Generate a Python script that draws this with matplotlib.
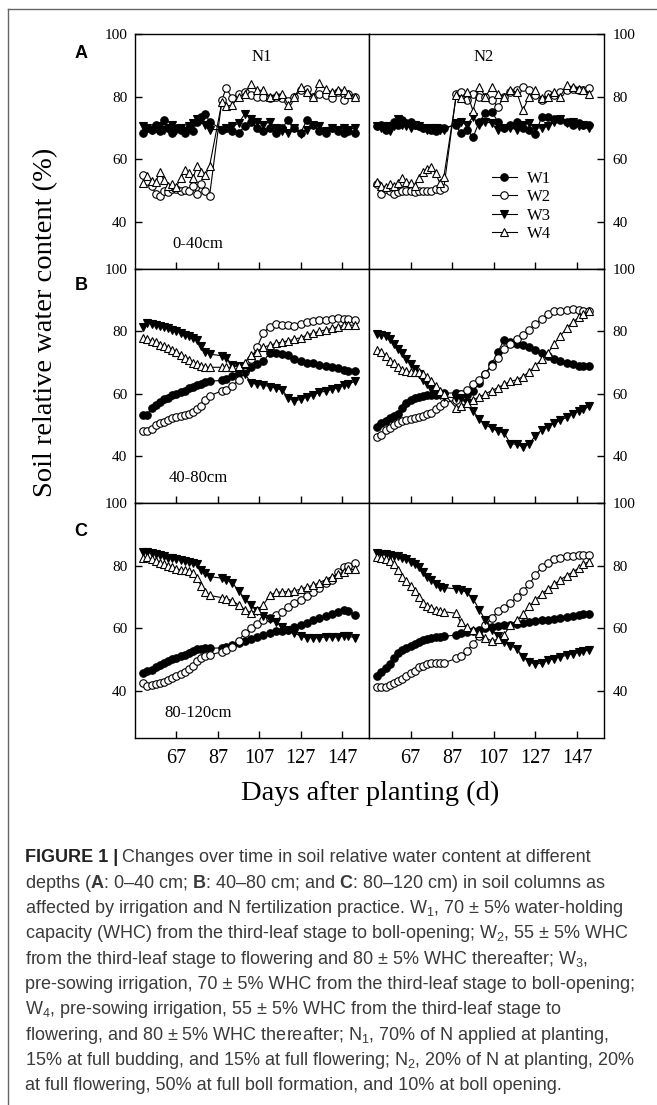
import matplotlib
matplotlib.use("Agg")
import matplotlib.pyplot as plt
from matplotlib.lines import Line2D

# sampling days (same for every series)
days = [51, 53, 55, 57, 59, 61, 63, 65, 67, 69, 71, 73, 75, 77, 79, 81, 83,
        89, 91, 94, 97, 100, 103, 106, 109, 112, 115, 118, 121, 124, 127, 130,
        133, 136, 139, 142, 145, 148, 150, 153]

# A: 0-40 cm
a_n1_w1 = [68.5, 70, 69.5, 71, 69, 72.5, 70, 68.5, 70, 69.5, 68.5, 70, 69, 72, 73.5, 74.5, 72,
           69.5, 70, 69, 68.5, 70.5, 72, 70, 69, 70, 68.5, 70, 72.5, 70, 68.5, 72.5, 71, 69, 68.5, 70, 69, 68.5, 69, 68.5]
a_n1_w2 = [55, 53, 51.5, 49, 48.3, 50, 49.5, 50.5, 50.5, 50, 50.2, 50, 51.5, 49, 52, 50, 48.3,
           79, 82.7, 79.5, 81, 81.5, 80.5, 80, 80, 79.5, 80, 79.5, 78.5, 80, 82, 82.3, 80, 81, 80.5, 79.5, 81.5, 79, 81, 80]
a_n1_w3 = [70.5, 70, 69.5, 70, 70.5, 69.5, 70, 71, 69.5, 70, 69, 70.5, 71.5, 73, 73, 71, 69.5,
           69.5, 70, 70.5, 71.5, 74.5, 73, 72, 71, 72, 70, 69, 68.5, 70, 68, 69.5, 71, 70.5, 69, 70, 69.5, 70, 69.5, 70]
a_n1_w4 = [52.5, 54.7, 53, 52.8, 56, 53.3, 51.5, 52, 51.2, 53.9, 56.5, 55.5, 54, 58, 56, 55, 57.8,
           78.4, 77, 77.3, 80, 81, 84, 82, 82, 80, 80.5, 81, 77.3, 80, 83.2, 81.5, 80, 84.3, 82.5, 81.5, 82, 82, 81, 80]
a_n2_w1 = [70.5, 71, 69.3, 70.5, 72, 71, 72.5, 71.5, 72, 71, 70.5, 70, 70, 69.5, 69, 70, 70,
           71, 68.3, 69.5, 67, 72, 74.7, 75.2, 72, 70, 71, 72, 70, 69.5, 68, 73.5, 73.5, 73, 72.5, 72, 71, 71.5, 71, 71]
a_n2_w2 = [52, 49, 50.5, 50, 49, 49.5, 50, 50, 50, 49.5, 50, 49.8, 50, 50, 50.5, 50.3, 51,
           81, 81.5, 79, 81, 80, 80, 79, 76.8, 80, 81.5, 82, 83, 82, 80.5, 79, 81, 80.5, 81.5, 82, 82.5, 82, 82, 82.7]
a_n2_w3 = [70.5, 70, 70.5, 69, 70.5, 73, 71, 70.5, 70, 71, 70.5, 70, 69.5, 70, 70, 69.5, 69.5,
           71.5, 72, 71, 73.5, 71, 72, 71.5, 69.3, 70, 70, 69.5, 71, 71.5, 70, 70, 70.5, 72, 73, 71.5, 72, 70.5, 71, 70]
a_n2_w4 = [52.8, 51.5, 51.2, 52, 51.5, 52.5, 53.9, 52.8, 52.5, 51.5, 54, 56, 57, 57.6, 55.5, 52.5, 54.4,
           80.5, 79.5, 81.5, 75.5, 83, 80, 83.2, 81, 80, 82, 81.5, 75.7, 80, 82, 79.5, 80, 81.5, 80, 83.7, 83, 82.5, 82, 81]

# B: 40-80 cm
b_n1_w1 = [53.3, 53.3, 55.5, 56.5, 57.5, 58.3, 58.8, 59.5, 60, 60.5, 61, 61.7, 62.2, 62.7, 63.3, 63.8, 64,
           64.3, 64.8, 65.8, 66.8, 67.5, 68.5, 69.5, 70.5, 73, 73, 72.8, 72.3, 71, 70.5, 70, 69.8, 69.3, 68.9, 68.5, 68.2, 67.6, 67.2, 67.2]
b_n1_w2 = [48.2, 48.2, 48.8, 50, 50.5, 51, 51.7, 52.2, 52.5, 52.9, 53.2, 53.5, 54.3, 55, 56.2, 58, 59.3,
           61, 61.3, 62.5, 64.5, 67, 71, 75, 79.5, 81.5, 82.3, 82.1, 82, 81.6, 82.3, 83, 83.3, 83.7, 83.6, 84, 84.3, 84, 84, 83.5]
b_n1_w3 = [81.5, 82.7, 82.5, 82, 81.8, 81.5, 81, 80.5, 80, 79.5, 79, 78.5, 78, 77.3, 75.2, 73.5, 72.7,
           72.2, 71.5, 69.3, 69, 66.5, 63.5, 63, 62.8, 62.3, 61.8, 61.2, 58.8, 57.6, 58.3, 59, 59.5, 60.5, 60.8, 61.5, 62, 62.7, 63, 64]
b_n1_w4 = [77.9, 77.5, 77, 76.5, 75.8, 75.2, 74.8, 74, 73.5, 72.5, 71.5, 70.8, 70, 69.5, 69, 68.5, 68.5,
           68.5, 68.5, 68.5, 69, 70, 72.5, 73.5, 75, 75.5, 76.2, 76.6, 77, 77.5, 78, 78.8, 79.5, 80, 80.5, 81, 81.5, 82, 82, 82]
b_n2_w1 = [49.4, 50.5, 51.2, 52.3, 52.8, 53.5, 55.5, 57, 58, 58.5, 59, 59.2, 59.5, 59.5, 59.5, 60, 60.2,
           60.3, 59.8, 59.5, 61, 63.5, 66.5, 69.5, 73.5, 77.3, 76.5, 76, 75.5, 75, 74, 73, 72, 71.2, 70.5, 70, 69.5, 69, 68.8, 68.8]
b_n2_w2 = [46.2, 46.8, 48.3, 49, 50, 50.8, 51.3, 51.6, 52, 52.2, 52.5, 53, 53.5, 54, 55, 56, 57,
           58.1, 60, 61.3, 63, 64.5, 66.5, 69, 71.5, 74.5, 76, 77.5, 79, 80.5, 82.5, 84, 85.5, 86.4, 86.5, 86.8, 87.3, 87, 86.5, 86.4]
b_n2_w3 = [79.1, 79, 78.5, 77.5, 76, 74.5, 73, 71, 69.5, 68, 66.5, 64.5, 63, 61.5, 60.3, 59.5, 59,
           58.7, 58.5, 57, 54.5, 52, 50, 49, 48, 47.5, 44, 43.8, 43, 44, 46.5, 48.5, 49.5, 50.5, 51.5, 52.5, 53.5, 54.5, 55, 56]
b_n2_w4 = [74.1, 73.5, 72, 70.5, 69.8, 68.5, 67.5, 67.2, 67, 67, 67, 66.5, 65.5, 64, 62.5, 61, 60,
           55.5, 56, 57, 58, 59, 60, 61, 62, 63, 64, 64.5, 65.5, 67, 69, 71, 73, 76, 78.5, 81, 83, 84.5, 85.5, 86.4]

# C: 80-120 cm
c_n1_w1 = [45.9, 46.3, 46.8, 47.5, 48.3, 49, 49.6, 50.1, 50.6, 51.1, 51.6, 52.2, 52.8, 53.3, 53.5, 53.6, 53.6,
           53.8, 54.1, 54.6, 55.2, 55.8, 56.5, 57.2, 57.9, 58.6, 59, 59.3, 59.6, 60.5, 61.2, 61.8, 62.5, 63.2, 63.8, 64.5, 65.2, 65.9, 65.5, 64.3]
c_n1_w2 = [42.4, 41.5, 41.8, 42.2, 42.5, 43, 43.5, 44.2, 44.8, 45.5, 46.2, 47, 48, 49.5, 50.5, 51.2, 51.5,
           52.5, 53, 54, 56, 58.5, 60, 61.5, 62.5, 63.3, 64.2, 65.3, 66.8, 68, 69, 70.2, 71.5, 72.8, 74.5, 75.5, 78, 79.7, 80, 80.7]
c_n1_w3 = [84.5, 84.3, 84, 83.8, 83.5, 83, 82.6, 82.3, 82, 81.8, 81.5, 81.2, 81, 80.5, 78.5, 77.5, 76.5,
           76, 75.5, 74.5, 72, 69.5, 67.5, 65.5, 64, 63, 62, 60.5, 59.5, 58.5, 57.5, 57, 57, 57, 57.2, 57.2, 57.3, 57.5, 57.5, 57]
c_n1_w4 = [82.3, 82.8, 82, 81.5, 81, 80.5, 80, 79.5, 79, 78.7, 78.5, 78.3, 77.8, 76, 73.5, 71.5, 70.5,
           69.8, 69.5, 68.8, 67.5, 66, 65, 65.8, 67.5, 70.5, 71.5, 71.6, 71.7, 72, 72.5, 73.2, 73.7, 74.6, 75.5, 76.5, 77.3, 78, 78.8, 78.8]
c_n2_w1 = [44.8, 46.2, 47.2, 48.5, 50.5, 52, 53.2, 53.8, 54.5, 55, 55.6, 56.2, 56.7, 57, 57.2, 57.3, 57.4,
           57.9, 58.4, 58.8, 59.2, 59.5, 60, 60.3, 60.7, 61, 61.2, 61.5, 61.8, 62, 62.3, 62.5, 62.8, 63.1, 63.4, 63.7, 64, 64.4, 64.6, 64.6]
c_n2_w2 = [41.2, 41.2, 41.4, 41.8, 42.5, 43.3, 43.8, 44.8, 45.6, 46.5, 47.5, 48, 48.5, 48.8, 48.8, 48.8, 49,
           50.4, 51.2, 52.8, 55, 57.5, 61, 63.3, 65.5, 66.5, 68, 70, 72, 74, 77, 79.5, 81, 82, 82.5, 83, 83.2, 83.5, 83.5, 83.4]
c_n2_w3 = [84, 83.8, 83.7, 83.5, 83.2, 83, 82.6, 82, 81.3, 80.5, 79.5, 78, 76.5, 75.5, 74, 73.3, 73,
           72.6, 72.3, 71.5, 69.5, 66, 62.5, 59.5, 57.5, 55.5, 54.5, 53.5, 51, 49.3, 48.5, 49, 49.8, 50.3, 50.9, 51.4, 51.9, 52.3, 52.7, 53.1]
c_n2_w4 = [82.7, 82.5, 82, 81.5, 80.5, 78.5, 76.5, 75, 73.5, 72, 70, 68, 67, 66.5, 66, 65.5, 65.3,
           64.8, 62, 60.5, 59.5, 58.5, 57, 56, 56.5, 58, 61, 62.5, 64.5, 67, 69, 71, 72.5, 74, 75.5, 76.8, 78, 79.3, 80.5, 81.3]

treatments = ["W1", "W2", "W3", "W4"]
depth_labels = ["0-40cm", "40-80cm", "80-120cm"]
panel_letters = ["A", "B", "C"]
n_labels = ["N1", "N2"]
xticks = [67, 87, 107, 127, 147]
yticks = [40, 60, 80, 100]

panels = [
    [[a_n1_w1, a_n1_w2, a_n1_w3, a_n1_w4], [a_n2_w1, a_n2_w2, a_n2_w3, a_n2_w4]],
    [[b_n1_w1, b_n1_w2, b_n1_w3, b_n1_w4], [b_n2_w1, b_n2_w2, b_n2_w3, b_n2_w4]],
    [[c_n1_w1, c_n1_w2, c_n1_w3, c_n1_w4], [c_n2_w1, c_n2_w2, c_n2_w3, c_n2_w4]],
]

styles = [dict(marker="o", mfc="black"), dict(marker="o", mfc="white"),
          dict(marker="v", mfc="black"), dict(marker="^", mfc="white")]

serif = "Liberation Serif"
W, H = 657, 1105
fig = plt.figure(figsize=(W / 100, H / 100), dpi=100)

def fx(px):
    return px / W

def fy(py):
    return 1 - py / H

cols = [(135, 369), (369, 604)]
rows = [(34, 269), (269, 503), (503, 738)]

for r, (top, bot) in enumerate(rows):
    for c, (left, right) in enumerate(cols):
        ax = fig.add_axes([fx(left), fy(bot), (right - left) / W, (bot - top) / H])
        for vals, st in zip(panels[r][c], styles):
            ax.plot(days, vals, color="black", lw=0.8, ms=5.4, mec="black", mew=0.8,
                    **st)
        ax.set_xlim(47, 160)
        ax.set_ylim(25, 100)
        ax.set_xticks(xticks)
        ax.set_yticks(yticks)
        for sp in ax.spines.values():
            sp.set_linewidth(1.0)
        ax.tick_params(axis="x", direction="in", length=4.7, width=1.0,
                       labelsize=14.5, pad=8, labelbottom=(r == 2))
        if c == 0:
            ax.tick_params(axis="y", direction="in", length=4.7, width=1.0,
                           labelsize=11, pad=5.5, left=True, right=False,
                           labelleft=True, labelright=False)
        else:
            ax.tick_params(axis="y", direction="in", length=4.7, width=1.0,
                           labelsize=11, pad=6, left=False, right=True,
                           labelleft=False, labelright=True)
        for lab in ax.get_xticklabels() + ax.get_yticklabels():
            lab.set_fontfamily(serif)
        if c == 0:
            ax.text(77.5, 33, depth_labels[r], ha="center", va="center",
                    fontsize=12, fontfamily=serif)
        if r == 0:
            ax.text(108 if c == 0 else 102, 92.6, n_labels[c], ha="center",
                    va="center", fontsize=12, fontfamily=serif)
        if r == 0 and c == 1:
            handles = [Line2D([], [], color="black", lw=0.8, ms=5.4, mec="black",
                              mew=0.8, **st) for st in styles]
            ax.legend(handles, treatments, loc="center left",
                      bbox_to_anchor=(0.523, 0.266), frameon=False,
                      borderpad=0, borderaxespad=0, handlelength=1.5,
                      handletextpad=0.6, labelspacing=0.15,
                      prop={"family": serif, "size": 12})

# panel letters
for letter, y in zip(panel_letters, [53.5, 286, 531]):
    fig.text(fx(81), fy(y), letter, ha="center", va="center", fontsize=13,
             fontweight="bold", fontfamily="Liberation Sans")

fig.text(fx(46), fy(322), "Soil relative water content (%)", rotation=90,
         ha="center", va="center", fontsize=20.5, fontfamily=serif)
fig.text(fx(370), fy(793), "Days after planting (d)", ha="center",
         va="center", fontsize=20.5, fontfamily=serif)

# border of the figure box
fig.add_artist(Line2D([fx(8), fx(8)], [fy(9), 0], color="#666666", lw=1.0))
fig.add_artist(Line2D([fx(8), 1], [fy(9), fy(9)], color="#666666", lw=1.0))

# caption
plt.rcParams["mathtext.fontset"] = "custom"
plt.rcParams["mathtext.rm"] = "Liberation Sans"
plt.rcParams["mathtext.bf"] = "Liberation Sans:bold"
plt.rcParams["mathtext.it"] = "Liberation Sans:italic"

cap_lines = [
    "Changes over time in soil relative water content at different",
    r"depths ($\mathbf{A}$: 0–40 cm; $\mathbf{B}$: 40–80 cm; and $\mathbf{C}$: 80–120 cm) in soil columns as",
    r"affected by irrigation and N fertilization practice. W$_\mathregular{1}$, 70 ± 5% water-holding",
    r"capacity (WHC) from the third-leaf stage to boll-opening; W$_\mathregular{2}$, 55 ± 5% WHC",
    r"from the third-leaf stage to flowering and 80 ± 5% WHC thereafter; W$_\mathregular{3}$,",
    "pre-sowing irrigation, 70 ± 5% WHC from the third-leaf stage to boll-opening;",
    r"W$_\mathregular{4}$, pre-sowing irrigation, 55 ± 5% WHC from the third-leaf stage to",
    r"flowering, and 80 ± 5% WHC thereafter; N$_\mathregular{1}$, 70% of N applied at planting,",
    r"15% at full budding, and 15% at full flowering; N$_\mathregular{2}$, 20% of N at planting, 20%",
    "at full flowering, 50% at full boll formation, and 10% at boll opening.",
]
cap_size = 13
cap_color = "#3a3a3a"
head = fig.text(fx(25), fy(858), "FIGURE 1 |", ha="left", va="center",
                fontsize=cap_size, fontweight="bold", color="#222222",
                fontfamily="Liberation Sans")
renderer = fig.canvas.get_renderer()
bb = head.get_window_extent(renderer)
for i, line in enumerate(cap_lines):
    x0 = fx(bb.x1 + 4) if i == 0 else fx(25)
    fig.text(x0, fy(858 + i * 25.3), line, ha="left", va="center",
             fontsize=cap_size, color=cap_color, fontfamily="Liberation Sans")

fig.savefig("out.png", dpi=100)
